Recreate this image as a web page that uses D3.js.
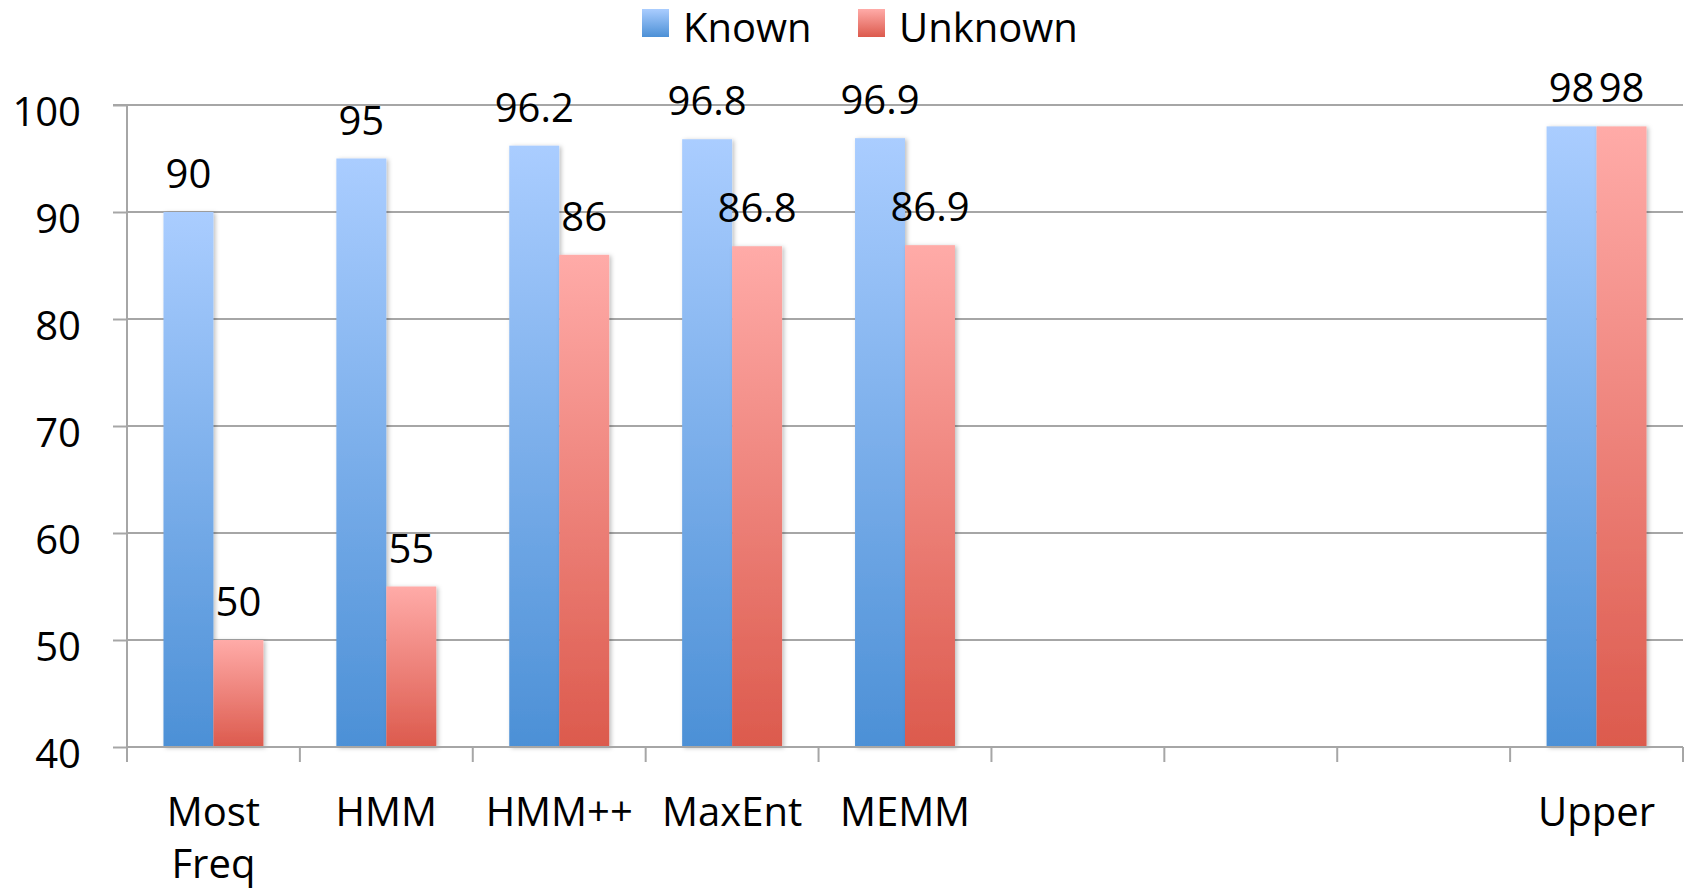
<!DOCTYPE html>
<html><head><meta charset="utf-8">
<script src="https://cdn.jsdelivr.net/npm/d3@7"></script>
<style>
html,body{margin:0;padding:0;background:#fff;}
text{font-family:"Open Sans",sans-serif;fill:#000;}
</style></head>
<body><svg id="c" width="1694" height="892"></svg>
<script>
const categories = ["Most\nFreq","HMM","HMM++","MaxEnt","MEMM","","","","Upper"];
const seriesNames = ["Known","Unknown"];
const knownValues = [90, 95, 96.2, 96.8, 96.9, null, null, null, 98];
const unknownValues = [50, 55, 86, 86.8, 86.9, null, null, null, 98];
const yTicks = [40, 50, 60, 70, 80, 90, 100];

(function(){
const svg = d3.select("#c");
const mLeft = 127, mRight = 1683, mTop = 105, mBottom = 747;
const fs = 40;

const defs = svg.append("defs");
const grads = [
  {id:"gK", c0:"#aacdff", c1:"#4c90d6"},
  {id:"gU", c0:"#ffaba8", c1:"#dc5a4d"}
];
grads.forEach(g=>{
  const lg = defs.append("linearGradient").attr("id",g.id).attr("x1",0).attr("y1",0).attr("x2",0).attr("y2",1);
  lg.append("stop").attr("offset","0%").attr("stop-color",g.c0);
  lg.append("stop").attr("offset","100%").attr("stop-color",g.c1);
});
const f = defs.append("filter").attr("id","sh").attr("x","-20%").attr("y","-5%").attr("width","150%").attr("height","115%");
f.append("feDropShadow").attr("dx",2).attr("dy",1).attr("stdDeviation",2).attr("flood-color","#000").attr("flood-opacity",0.25);

const idx = d3.range(categories.length);
const x = d3.scaleBand().domain(idx).range([mLeft, mRight]).paddingInner(0).paddingOuter(0);
const sub = d3.scaleBand().domain(seriesNames).range([0, x.bandwidth()]).paddingInner(0).paddingOuter(0.73);
const y = d3.scaleLinear().domain([40, 100]).range([mBottom, mTop]);

// gridlines
svg.append("g").selectAll("line").data(yTicks.slice(1)).join("line")
  .attr("x1", mLeft).attr("x2", mRight).attr("y1", d=>y(d)).attr("y2", d=>y(d))
  .attr("stroke","#a6a6a6").attr("stroke-width",2);

// y axis
const yAxis = svg.append("g").attr("transform",`translate(${mLeft},0)`)
  .call(d3.axisLeft(y).tickValues(yTicks).tickSize(14).tickPadding(32).tickFormat(d3.format("d")));
yAxis.select(".domain").attr("stroke","#a6a6a6").attr("stroke-width",2).attr("d",`M-14,${mTop}H0V${mBottom}`);
yAxis.selectAll(".tick line").attr("stroke","#a6a6a6").attr("stroke-width",2);
yAxis.selectAll(".tick text").attr("font-size",fs).attr("font-family","'Open Sans',sans-serif").attr("fill","#000").attr("dy","0.5em");

// bars
const series = [
  {name:"Known", values:knownValues, fill:"url(#gK)"},
  {name:"Unknown", values:unknownValues, fill:"url(#gU)"}
];
series.forEach(s=>{
  const data = idx.filter(i=>s.values[i]!=null).map(i=>({i, v:s.values[i]}));
  svg.append("g").selectAll("rect").data(data).join("rect")
    .attr("x", d=>x(d.i)+sub(s.name)).attr("width", sub.bandwidth())
    .attr("y", d=>y(d.v)).attr("height", d=>y(40)-y(d.v))
    .attr("fill", s.fill).attr("filter","url(#sh)");
});

// x axis line & boundary ticks
svg.append("line").attr("x1",mLeft).attr("x2",mRight).attr("y1",mBottom).attr("y2",mBottom)
  .attr("stroke","#a6a6a6").attr("stroke-width",2);
const bounds = idx.map(i=>x(i)).concat([x(idx[idx.length-1])+x.bandwidth()]);
svg.append("g").selectAll("line").data(bounds).join("line")
  .attr("x1",d=>d).attr("x2",d=>d).attr("y1",mBottom).attr("y2",mBottom+15)
  .attr("stroke","#a6a6a6").attr("stroke-width",2);

// x labels (one text per line)
const lblG = svg.append("g");
idx.forEach(i=>{
  categories[i].split("\n").forEach((line,k)=>{
    lblG.append("text").attr("x", x(i)+x.bandwidth()/2).attr("y", 826 + k*52)
      .attr("text-anchor","middle").attr("font-size",fs).text(line);
  });
});

// value labels
series.forEach(s=>{
  const data = idx.filter(i=>s.values[i]!=null).map(i=>({i, v:s.values[i]}));
  svg.append("g").selectAll("text").data(data).join("text")
    .attr("x", d=>x(d.i)+sub(s.name)+sub.bandwidth()/2)
    .attr("y", d=>y(d.v)-24)
    .attr("text-anchor","middle").attr("font-size",fs)
    .text(d=>d.v);
});

// legend
const leg = [{name:"Known", fill:"url(#gK)", x:642},{name:"Unknown", fill:"url(#gU)", x:858}];
const lgG = svg.append("g");
leg.forEach(l=>{
  lgG.append("rect").attr("x",l.x).attr("y",9).attr("width",27).attr("height",28).attr("fill",l.fill);
  lgG.append("text").attr("x",l.x+41).attr("y",42).attr("font-size",fs).text(l.name);
});
})();
</script></body></html>
